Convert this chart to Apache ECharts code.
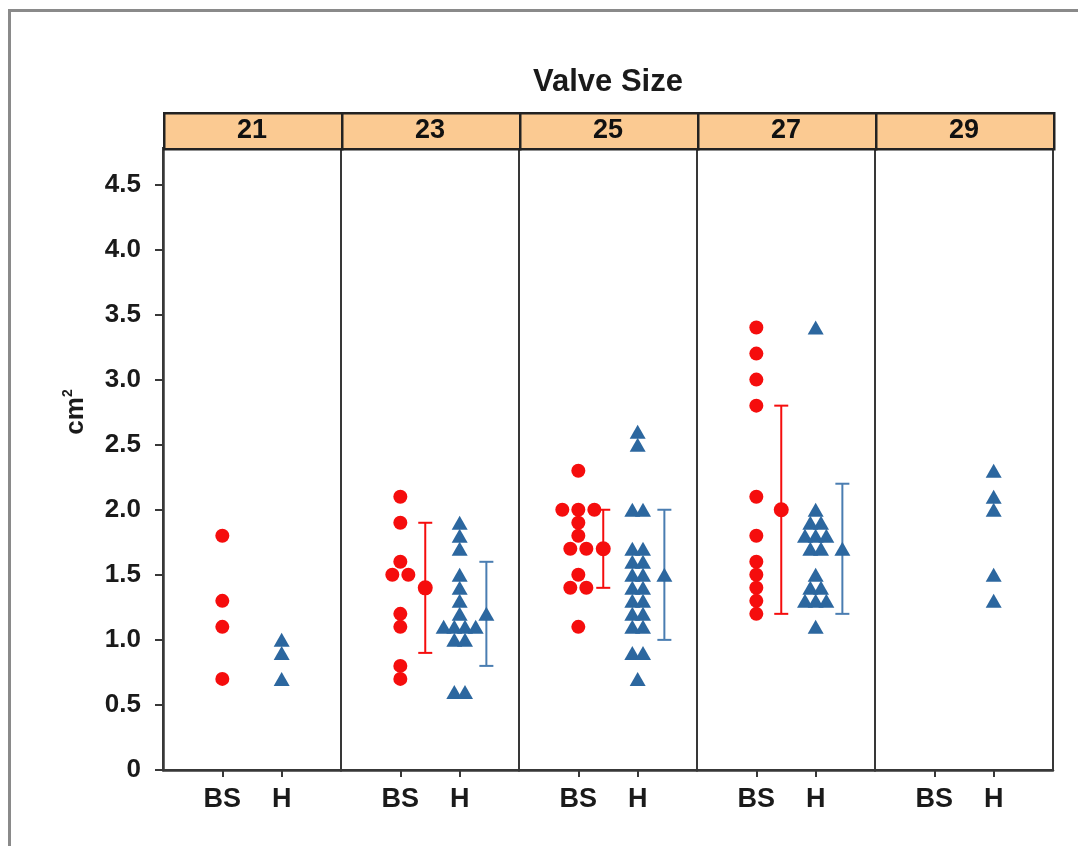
<!DOCTYPE html>
<html>
<head>
<meta charset="utf-8">
<script src="https://cdn.jsdelivr.net/npm/echarts@6/dist/echarts.min.js"></script>
<style>
  html, body { margin: 0; padding: 0; background: #fff; }
  #chart { width: 1078px; height: 846px; }
</style>
</head>
<body>
<div id="chart"></div>
<script>
// facet labels and group labels
const panels = ['21', '23', '25', '27', '29'];
const groups = ['BS', 'H'];
const yTicks = [0, 0.5, 1.0, 1.5, 2.0, 2.5, 3.0, 3.5, 4.0, 4.5];

// individual values per valve size (cm2)
const bsValues = [
  [1.8, 1.3, 1.1, 0.7],
  [2.1, 1.9, 1.6, 1.5, 1.5, 1.2, 1.1, 0.8, 0.7],
  [2.3, 2.0, 2.0, 2.0, 1.9, 1.8, 1.7, 1.7, 1.5, 1.4, 1.4, 1.1],
  [3.4, 3.2, 3.0, 2.8, 2.1, 1.8, 1.6, 1.5, 1.4, 1.3, 1.2],
  []
];
const hValues = [
  [1.0, 0.9, 0.7],
  [1.9, 1.8, 1.7, 1.5, 1.4, 1.3, 1.2, 1.1, 1.1, 1.1, 1.1, 1.0, 1.0, 0.6, 0.6],
  [2.6, 2.5, 2.0, 2.0, 1.7, 1.7, 1.6, 1.6, 1.5, 1.5, 1.4, 1.4, 1.3, 1.3, 1.2, 1.2, 1.1, 1.1, 0.9, 0.9, 0.7],
  [3.4, 2.0, 1.9, 1.9, 1.8, 1.8, 1.8, 1.7, 1.7, 1.5, 1.4, 1.4, 1.3, 1.3, 1.3, 1.1],
  [2.3, 2.1, 2.0, 1.5, 1.3]
];

// mean and error bar ends (null = no bar drawn)
const bsMean = [null, 1.4, 1.7, 2.0, null];
const bsLow  = [null, 0.9, 1.4, 1.2, null];
const bsHigh = [null, 1.9, 2.0, 2.8, null];
const hMean  = [null, 1.2, 1.5, 1.7, null];
const hLow   = [null, 0.8, 1.0, 1.2, null];
const hHigh  = [null, 1.6, 2.0, 2.2, null];

const red = '#f50d0d';
const blue = '#2c679f';
const blueBar = '#4a7db1';
const axisColor = '#383838';
const font = '"Liberation Sans", Arial, sans-serif';

const gLeft = 163, gTop = 148, gW = 178, gH = 622;

// spread equal values side by side, like a dot plot
function swarm(values, center, step) {
  const counts = {}, seen = {};
  values.forEach(v => { counts[v] = (counts[v] || 0) + 1; });
  return values.map(v => {
    const k = counts[v];
    const i = seen[v] || 0;
    seen[v] = i + 1;
    return [center + (i - (k - 1) / 2) * step, v];
  });
}

function errorBar(color) {
  return function (params, api) {
    const top = api.coord([api.value(0), api.value(2)]);
    const bot = api.coord([api.value(0), api.value(1)]);
    const cap = 7;
    const style = { stroke: color, lineWidth: 2 };
    return {
      type: 'group',
      children: [
        { type: 'line', shape: { x1: top[0], y1: top[1], x2: bot[0], y2: bot[1] }, style: style },
        { type: 'line', shape: { x1: top[0] - cap, y1: top[1], x2: top[0] + cap, y2: top[1] }, style: style },
        { type: 'line', shape: { x1: bot[0] - cap, y1: bot[1], x2: bot[0] + cap, y2: bot[1] }, style: style }
      ]
    };
  };
}

const grid = [], xAxis = [], yAxis = [], series = [], graphic = [];

panels.forEach((p, i) => {
  grid.push({
    left: gLeft + i * gW, top: gTop, width: gW, height: gH,
    show: true, borderColor: axisColor, borderWidth: 2
  });
  xAxis.push({
    gridIndex: i, type: 'value', min: 0, max: 3, interval: 1,
    splitLine: { show: false },
    axisLine: { show: true, lineStyle: { color: axisColor, width: 2.5 } },
    axisTick: { show: true, customValues: [1, 2], length: 7, lineStyle: { color: axisColor, width: 2 } },
    axisLabel: {
      customValues: [1, 2], formatter: v => groups[v - 1] || '',
      fontFamily: font, fontSize: 27, fontWeight: 'bold', color: '#1a1a1a', margin: 16
    }
  });
  yAxis.push({
    gridIndex: i, type: 'value', min: 0, max: 4.78, interval: 0.5,
    show: i === 0,
    splitLine: { show: false },
    axisLine: { show: true, lineStyle: { color: axisColor, width: 2.5 } },
    axisTick: { show: true, customValues: yTicks, length: 8, lineStyle: { color: axisColor, width: 2 } },
    axisLabel: {
      customValues: yTicks, formatter: v => (v === 0 ? '0' : v.toFixed(1)),
      fontFamily: font, fontSize: 26, fontWeight: 'bold', color: '#1a1a1a', margin: 22
    }
  });

  series.push({
    type: 'scatter', xAxisIndex: i, yAxisIndex: i,
    symbol: 'circle', symbolSize: 14, itemStyle: { color: red, opacity: 1 },
    data: swarm(bsValues[i], 1, 0.27), z: 3
  });
  series.push({
    type: 'scatter', xAxisIndex: i, yAxisIndex: i,
    symbol: 'triangle', symbolSize: [16, 14], itemStyle: { color: blue, opacity: 1 },
    data: swarm(hValues[i], 2, 0.18), z: 3
  });

  if (bsMean[i] != null) {
    series.push({
      type: 'custom', xAxisIndex: i, yAxisIndex: i, renderItem: errorBar(red),
      data: [[1.42, bsLow[i], bsHigh[i]]], z: 2
    });
    series.push({
      type: 'scatter', xAxisIndex: i, yAxisIndex: i, symbol: 'circle', symbolSize: 15,
      itemStyle: { color: red, opacity: 1 }, data: [[1.42, bsMean[i]]], z: 4
    });
  }
  if (hMean[i] != null) {
    series.push({
      type: 'custom', xAxisIndex: i, yAxisIndex: i, renderItem: errorBar(blueBar),
      data: [[2.45, hLow[i], hHigh[i]]], z: 2
    });
    series.push({
      type: 'scatter', xAxisIndex: i, yAxisIndex: i, symbol: 'triangle', symbolSize: [16, 14],
      itemStyle: { color: blue, opacity: 1 }, data: [[2.45, hMean[i]]], z: 4
    });
  }

  // facet strip
  graphic.push({
    type: 'rect', left: gLeft + i * gW, top: 112,
    shape: { width: gW, height: 36 },
    style: { fill: '#fbca92', stroke: '#222', lineWidth: 2.5 }, z: 5
  });
  graphic.push({
    type: 'text', x: gLeft + i * gW + gW / 2, y: 131,
    style: {
      text: p, textAlign: 'center', textVerticalAlign: 'middle',
      font: 'bold 27px ' + font, fill: '#111'
    }, z: 6
  });
});

// outer picture frame
graphic.push({
  type: 'rect', left: 7, top: 8, shape: { width: 1200, height: 1000 },
  style: { fill: 'none', stroke: '#8a8a8a', lineWidth: 3 }, z: 1
});
graphic.push({
  type: 'text', x: gLeft + 2.5 * gW, y: 82,
  style: {
    text: 'Valve Size', textAlign: 'center', textVerticalAlign: 'middle',
    font: 'bold 31px ' + font, fill: '#1a1a1a'
  }
});
graphic.push({
  type: 'text', x: 76, y: 412, rotation: Math.PI / 2,
  style: {
    text: '{a|cm}{b|2}', textAlign: 'center', textVerticalAlign: 'middle',
    rich: {
      a: { font: 'bold 26px ' + font, fill: '#1a1a1a', lineHeight: 30 },
      b: { font: 'bold 14px ' + font, fill: '#1a1a1a', verticalAlign: 'top', lineHeight: 30 }
    }
  }
});

const chart = echarts.init(document.getElementById('chart'));
chart.setOption({
  animation: false,
  backgroundColor: '#fff',
  grid: grid,
  xAxis: xAxis,
  yAxis: yAxis,
  series: series,
  graphic: graphic
});
</script>
</body>
</html>
